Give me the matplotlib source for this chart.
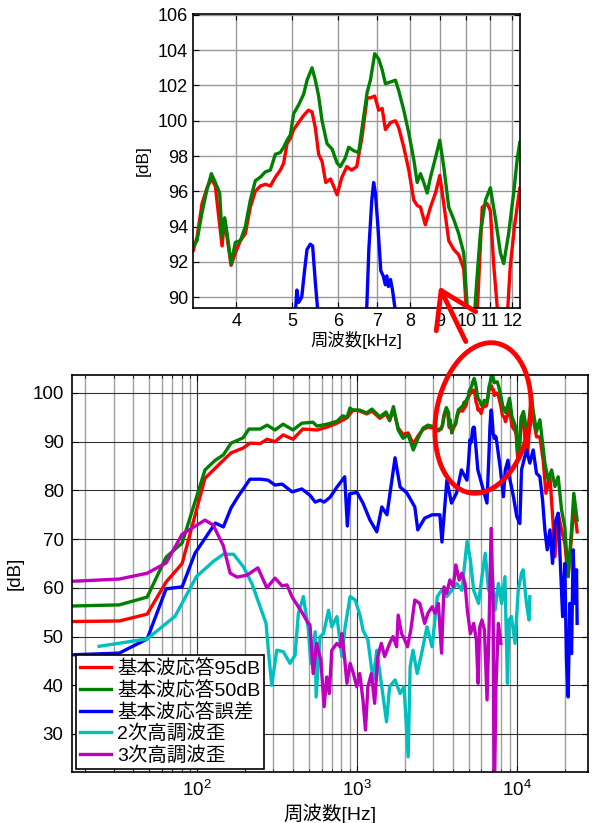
import numpy as np
import matplotlib.pyplot as plt
from matplotlib.patches import Ellipse, FancyArrowPatch
from matplotlib.ticker import NullLocator, FixedLocator, LogLocator, NullFormatter

plt.rcParams['font.family'] = ['Liberation Sans', 'Noto Sans CJK JP']
plt.rcParams['mathtext.fontset'] = 'custom'
plt.rcParams['mathtext.rm'] = 'Liberation Sans'

# 基本波応答95dB (Hz, dB)
f_red = [10, 32.6, 48.7, 64, 80.6, 112, 146, 163, 194, 214, 248, 274, 307, 345, 398, 458, 562, 650,
         750, 866, 944, 1040, 1150, 1240, 1390, 1520, 1600, 1690, 1810, 1940, 2090, 2250, 2410, 2590,
         2780, 3000, 3220,
         3366, 3420, 3489, 3559, 3621, 3679, 3710, 3779, 3818, 3855, 3917, 3984, 4064, 4146, 4229, 4314,
         4401, 4489, 4580, 4672, 4766, 4829, 4895, 4960, 5025, 5126, 5229, 5330, 5407, 5479, 5551, 5627,
         5710, 5820, 5890, 5974, 6090, 6210, 6330, 6460, 6600, 6733, 6822, 6940, 7052, 7148, 7243, 7389,
         7538, 7638, 7792, 7949, 8109, 8219, 8328, 8490, 8666, 8840, 8993, 9137, 9321, 9508, 9697, 9893,
         10100, 10400, 10650, 10860, 11000, 11150, 11400, 11700, 11910, 12120, 12370,
         12700, 13270, 13930, 14600, 15200, 16100, 16850, 17300, 18130, 19030, 19950, 20930, 21970,
         22710, 23820]
db_red = [53.0, 53.2, 54.6, 61.2, 65.0, 82.5, 86.2, 87.7, 88.7, 89.7, 89.6, 90.5, 90.0, 91.4, 90.5, 92.6,
          92.4, 93.0, 93.8, 94.9, 96.5, 96.3, 95.7, 96.3, 94.8, 95.7, 94.3, 96.6, 92.8, 91.5, 91.8, 89.5,
          91.2, 92.5, 93.0, 92.8, 92.2,
          92.6, 93.4, 95.3, 96.2, 96.7, 96.3, 95.2, 92.9, 94.4, 93.4, 91.8, 92.5, 93.2, 93.6, 95.1, 96.0,
          96.3, 96.4, 96.3, 96.8, 97.2, 97.6, 98.7, 99.0, 99.5, 99.9, 100.3, 100.6, 100.5, 99.6, 98.1, 97.7,
          96.5, 96.7, 96.3, 95.8, 96.8, 97.4, 97.2, 97.4, 99.1, 101.3, 101.3, 101.4, 100.6, 100.7, 99.5, 99.9,
          100.0, 99.6, 98.5, 97.2, 95.5, 95.2, 95.1, 94.1, 95.1, 95.9, 96.9, 95.3, 93.2, 92.7, 92.4, 91.6,
          87.0, 88.0, 95.1, 95.3, 94.9, 91.8, 88.0, 87.5, 91.8, 94.1, 96.2,
          94.5, 91.0, 91.0, 86.2, 79.4, 82.8, 73.2, 66.4, 75.3, 71.9, 69.1, 62.3, 70.5,
          77.3, 71.5]

# 基本波応答50dB
f_green = [10, 32.6, 48.7, 64, 80.6, 112, 130, 146, 163, 194, 211, 248, 274, 307, 345, 398, 452, 530,
           562, 650, 750, 813, 866, 904, 944, 1040, 1150, 1240, 1390, 1520, 1600, 1690, 1810, 1940, 2090,
           2250, 2410, 2590, 2780, 3000, 3220,
           3366, 3420, 3489, 3559, 3621, 3679, 3743, 3779, 3818, 3855, 3917, 3984, 4064, 4146, 4229, 4314,
           4401, 4489, 4580, 4672, 4766, 4829, 4895, 4960, 5025, 5126, 5229, 5301, 5407, 5479, 5551, 5627,
           5740, 5856, 5974, 6053, 6174, 6256, 6383, 6511, 6600, 6733, 6822, 6940, 7052, 7148, 7243, 7389,
           7538, 7638, 7792, 7949, 8109, 8219, 8328, 8438, 8553, 8666, 8840, 8993, 9137, 9321, 9508, 9697,
           9893, 10100, 10300, 10430, 10570, 10790, 11000, 11220, 11450, 11600, 11830, 12070, 12240, 12370,
           12700, 13270, 13930, 14480, 14970, 15700, 16490, 17300, 18130, 19030, 19950, 20930, 21970,
           22710, 23820]
db_green = [56.1, 56.5, 58.1, 66.3, 69.2, 84.2, 86.2, 87.3, 89.7, 90.8, 92.6, 92.6, 93.4, 92.4, 93.6,
            92.4, 93.8, 94.0, 93.2, 93.6, 94.2, 95.3, 95.0, 96.9, 96.5, 96.5, 95.9, 96.7, 95.1, 96.1, 94.5,
            97.2, 92.4, 90.7, 91.4, 88.3, 90.7, 92.8, 93.4, 93.1, 92.4,
            92.85, 93.2, 94.8, 96.1, 97.0, 96.5, 95.9, 93.4, 94.5, 93.6, 91.9, 93.1, 93.2, 94.0, 95.5, 96.6,
            96.8, 97.1, 97.2, 98.1, 98.2, 98.5, 98.9, 99.2, 100.4, 100.9, 101.5, 102.3, 103.0, 102.3, 101.4,
            100.0, 98.7, 98.4, 97.6, 97.4, 97.9, 98.5, 98.3, 98.2, 99.6, 101.6, 102.3, 103.8, 103.5, 102.9,
            102.1, 102.2, 102.3, 101.7, 100.6, 99.3, 97.8, 96.5, 97.0, 96.5, 95.9, 96.8, 97.9, 98.9, 97.4,
            95.1, 94.4, 93.6, 92.5, 88.0, 88.5, 91.1, 93.6, 95.5, 96.2, 94.5, 92.5, 91.9, 93.6, 95.9, 97.8,
            98.8,
            96.0, 92.1, 94.5, 89.7, 85.6, 82.1, 84.2, 80.8, 82.8, 76.0, 72.5, 62.3, 71.9,
            79.4, 73.9]

# 基本波応答誤差
f_blue = [10, 32.6, 48.7, 64, 80.6, 97, 130, 146, 163, 180, 214, 250, 278, 307, 340, 393, 452, 508,
          548, 588, 623, 679, 750, 838, 870, 900, 1000, 1090, 1206, 1330, 1430, 1540, 1730, 1860, 2050,
          2300, 2400, 2650, 2950, 3300, 3400, 3650, 3900, 4200, 4500, 4870, 4990, 5090, 5126, 5190, 5240,
          5300, 5370, 5420, 5480, 5700, 6100, 6500, 6700, 6780, 6860, 6910, 6960, 7030, 7110, 7180, 7240,
          7280, 7330, 7390, 7450, 7850, 8240, 8460, 8800, 9070, 9520, 9990, 10440, 10690, 11480, 12050,
          12650, 13270, 13930, 14480, 14970, 15480, 16100, 16720, 17300, 18130, 18780, 19330, 19950,
          20430, 20930, 21430, 21970, 22500, 23050, 23620, 23820]
db_blue = [46.0, 46.6, 49.5, 59.8, 60.2, 67.1, 73.3, 72.5, 76.4, 78.7, 82.3, 82.3, 82.1, 81.1, 81.3,
           79.7, 80.3, 79.0, 77.6, 78.0, 77.6, 78.6, 80.7, 82.8, 72.7, 79.3, 79.6, 77.4, 73.9, 71.5, 76.6,
           75.0, 86.7, 80.7, 79.5, 76.6, 71.9, 74.3, 75.0, 75.0, 69.4, 82.1, 77.4, 79.5, 84.2, 82.1, 86.0,
           90.4, 89.7, 90.0, 91.3, 92.7, 93.0, 92.9, 90.8, 84.2, 80.7, 77.4, 88.0, 92.7, 95.5, 96.5, 95.9,
           94.0, 91.5, 91.2, 90.7, 91.2, 90.6, 91.0, 90.4, 84.9, 78.7, 84.2, 86.2, 82.1, 78.7, 74.6, 73.2,
           84.2, 88.3, 85.6, 88.3, 83.5, 82.8, 78.0, 71.9, 67.8, 71.9, 65.0, 73.2, 75.3, 63.7, 54.1, 65.0,
           45.2, 37.6, 56.8, 46.5, 67.8, 56.8, 63.7, 52.7]

# 2次高調波歪
f_cyan = [24.4, 48.7, 72.9, 99, 126, 146, 169, 195, 220, 248, 270, 279, 293, 315, 346, 381, 410, 430,
          462, 497, 514, 548, 555, 588, 617, 664, 696, 749, 805, 843, 906, 975, 1050, 1090, 1170, 1260,
          1330, 1420, 1530, 1600, 1730, 1860, 1970, 2090, 2150, 2240, 2380, 2540, 2740, 2950, 3180, 3380,
          3640, 3920, 4210, 4530, 4880, 5120, 5370, 5760, 6050, 6340, 6650, 6960, 7300, 7660, 8030, 8420,
          8730, 8930, 9250, 9740, 10200, 10690, 10940, 11480, 11910, 12050]
db_cyan = [48.0, 49.5, 54.2, 62.3, 65.4, 66.9, 66.9, 64.3, 60.9, 56.1, 52.7, 47.2, 40.0, 47.2, 46.9,
           44.5, 46.2, 54.8, 58.2, 51.3, 44.5, 51.0, 37.6, 50.0, 50.6, 55.4, 52.0, 54.1, 45.9, 52.0, 58.2,
           57.5, 54.1, 51.3, 49.3, 41.1, 47.2, 40.4, 32.5, 39.7, 41.1, 38.3, 39.7, 25.3, 43.8, 47.2, 42.4,
           46.6, 52.0, 47.9, 58.2, 59.5, 58.2, 59.5, 60.9, 59.5, 69.5, 65.7, 59.5, 56.8, 62.3, 67.1, 59.5,
           63.7, 55.4, 60.9, 56.8, 62.3, 40.4, 53.4, 54.1, 48.6, 59.5, 63.0, 63.7, 56.8, 53.4, 58.2]

# 3次高調波歪
f_mag = [10, 32.6, 48.7, 64, 80.6, 112, 126, 146, 161, 178, 205, 240, 273, 307, 340, 365, 393, 452,
         494, 508, 532, 560, 594, 623, 647, 671, 696, 749, 785, 805, 835, 865, 906, 950, 996, 1040, 1090,
         1130, 1170, 1230, 1290, 1350, 1420, 1490, 1600, 1680, 1770, 1810, 1900, 1990, 2070, 2170, 2300,
         2470, 2650, 2780, 2950, 3080, 3230, 3380, 3500, 3640, 3810, 4000, 4150, 4360, 4530, 4740, 4900,
         5120, 5370, 5580, 5720, 5860, 6050, 6270, 6510, 6700, 6900, 7100, 7220, 7400, 7660, 7940]
db_mag = [61.0, 61.8, 63.0, 65.1, 71.0, 73.9, 72.9, 68.6, 63.0, 62.2, 62.6, 64.1, 60.0, 62.0, 60.4,
          60.6, 58.1, 55.0, 52.8, 52.4, 42.4, 48.6, 45.2, 35.6, 41.7, 38.3, 47.2, 48.6, 47.9, 50.6, 45.9,
          40.4, 44.5, 42.4, 39.7, 42.4, 37.0, 30.8, 39.7, 42.4, 36.3, 45.9, 48.6, 45.9, 48.6, 50.0, 47.9,
          54.4, 50.6, 49.3, 47.9, 51.3, 57.5, 56.8, 52.7, 54.8, 56.1, 54.8, 56.8, 46.6, 60.2, 58.9, 61.6,
          60.2, 64.7, 61.6, 63.0, 60.9, 55.4, 50.6, 52.7, 49.3, 40.4, 52.0, 53.4, 51.3, 37.0, 52.0, 72.2,
          57.5, 15.0, 39.7, 52.7, 48.6]

labels = ['基本波応答95dB', '基本波応答50dB', '基本波応答誤差', '2次高調波歪', '3次高調波歪']
colors = ['#ff0000', '#008000', '#0000ff', '#00bfbf', '#bf00bf']

fig = plt.figure(figsize=(5.95, 8.23), dpi=100)

# main chart
ax = fig.add_axes([0.121, 0.062, 0.867, 0.4824])
series = [(f_red, db_red), (f_green, db_green), (f_blue, db_blue), (f_cyan, db_cyan), (f_mag, db_mag)]
for (f, d), c, lab in zip(series, colors, labels):
    ax.plot(f, d, color=c, lw=2.4, label=lab)
ax.set_xscale('log')
ax.set_xlim(16.5, 27800)
ax.set_ylim(22.2, 103.7)
ax.set_yticks(np.arange(30, 101, 10))
ax.xaxis.set_major_locator(FixedLocator([100, 1000, 10000]))
ax.xaxis.set_minor_locator(LogLocator(base=10, subs=np.arange(2, 10)))
ax.xaxis.set_minor_formatter(NullFormatter())
ax.grid(True, which='major', color='#333333', lw=0.8)
ax.grid(True, which='minor', axis='x', color='#a0a0a0', lw=1.0)
ax.set_axisbelow(True)
ax.tick_params(which='both', direction='in', top=True, right=True, labelsize=13.5)
ax.tick_params(which='major', length=4, pad=6)
ax.tick_params(which='minor', length=2.5)
for s in ax.spines.values():
    s.set_linewidth(1.2)
ax.set_xlabel('周波数[Hz]', fontsize=14, labelpad=2)
ax.set_ylabel('[dB]', fontsize=13.5, labelpad=6)
leg = ax.legend(loc='lower left', bbox_to_anchor=(0.008, 0.008), borderaxespad=0, fontsize=14,
                fancybox=False, edgecolor='black', framealpha=1, handlelength=1.6,
                handletextpad=0.3, labelspacing=0.15, borderpad=0.2)
leg.get_frame().set_linewidth(1.2)

# inset (zoom of 3.4-12.4 kHz)
ax2 = fig.add_axes([0.3244, 0.6257, 0.5496, 0.3572])
for (f, d), c in zip(series[:3], colors[:3]):
    ax2.plot(np.array(f) / 1000, d, color=c, lw=2.4)
ax2.set_xscale('log')
ax2.set_xlim(3.366, 12.38)
ax2.set_ylim(89.38, 106.05)
ax2.set_yticks(np.arange(90, 107, 2))
kticks = [4, 5, 6, 7, 8, 9, 10, 11, 12]
ax2.xaxis.set_major_locator(FixedLocator(kticks))
ax2.set_xticklabels([str(k) for k in kticks])
ax2.xaxis.set_minor_locator(NullLocator())
ax2.grid(True, color='#999999', lw=1.0)
ax2.set_axisbelow(True)
ax2.tick_params(direction='in', top=True, right=True, labelsize=13, length=4)
for s in ax2.spines.values():
    s.set_linewidth(1.2)
ax2.set_xlabel('周波数[kHz]', fontsize=12.5, labelpad=1)
ax2.set_ylabel('[dB]', fontsize=12.5, labelpad=5)

# overlay in pixel coordinates for the ellipse and arrow
ov = fig.add_axes([0, 0, 1, 1])
ov.set_xlim(0, 595)
ov.set_ylim(823, 0)
ov.axis('off')
ov.patch.set_alpha(0)
ov.add_patch(Ellipse((483, 418), width=152, height=94, angle=-80, fill=False,
                     edgecolor='#ff0000', lw=3.5))
ov.add_patch(FancyArrowPatch((467, 344), (438, 284), arrowstyle='->,head_length=7,head_width=4.5',
                             color='#ff0000', lw=3.5, mutation_scale=3.5))

fig.savefig('out.png', dpi=100)
